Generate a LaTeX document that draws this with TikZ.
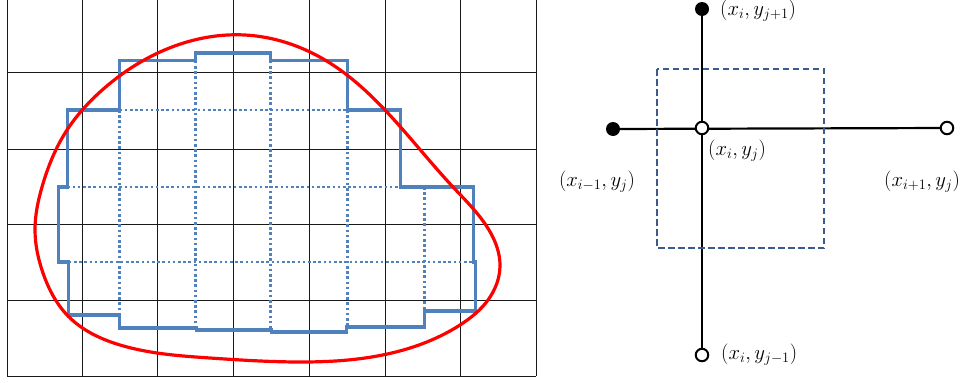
\documentclass[tikz,border=0pt]{standalone}
\usetikzlibrary{backgrounds,hobby}
\definecolor{outl}{HTML}{4F81BD}
\definecolor{boxc}{HTML}{3B5B8F}
\begin{document}
\begin{tikzpicture}[x=1pt,y=-1pt,
  gridline/.style={black!90, line width=0.9pt},
  outline/.style={outl, line width=3.3pt, line join=miter},
  dotline/.style={outl, line width=2.8pt, dash pattern=on 2.6pt off 2.6pt},
  curve/.style={red, line width=3.2pt},
  axis/.style={black, line width=2.2pt},
  fdot/.style={circle, fill=black, inner sep=0pt, minimum size=14pt},
  odot/.style={circle, draw=black, fill=white, line width=2pt, inner sep=0pt, minimum size=12.5pt},
  lab/.style={inner sep=0pt, font=\fontsize{22}{26}\selectfont, text=black},
  cellbox/.style={boxc, line width=2.4pt, dash pattern=on 6.5pt off 3.5pt}]
\useasboundingbox (0,0) rectangle (970,383);
\begin{scope}[on background layer]
  \fill[white] (0,0) rectangle (970,383);
\end{scope}

% grid
\foreach \x in {7,82,157,233,309,385,460,536}
  \draw[gridline] (\x,0) -- (\x,376);
\foreach \y in {72,149,224,300,376}
  \draw[gridline] (7,\y) -- (536,\y);

% dotted interior lines
\draw[dotline] (119.6,110) -- (119.6,315);
\draw[dotline] (195.7,60.7) -- (195.7,328);
\draw[dotline] (270.8,60.7) -- (270.8,330);
\draw[dotline] (347.3,110) -- (347.3,327);
\draw[dotline] (424.5,187) -- (424.5,311);
\draw[dotline] (119.6,110) -- (347.8,110);
\draw[dotline] (67.4,187) -- (400.8,187);
\draw[dotline] (68.8,262) -- (473.3,262);

% staircase outline
\draw[outline] (119.6,60.7) -- (195.7,60.7) -- (195.7,53) -- (270.8,53) -- (270.8,60.7)
  -- (347.8,60.7) -- (347.8,110) -- (400.8,110) -- (400.8,187) -- (473.3,187)
  -- (473.3,262) -- (475.5,262) -- (475.5,311) -- (424.5,311) -- (424.5,327)
  -- (346.7,327) -- (346.7,332) -- (271.2,332) -- (271.2,330) -- (196.5,330)
  -- (196.5,328) -- (119.6,328) -- (119.6,315) -- (68.8,315) -- (68.8,262)
  -- (58.2,262) -- (58.2,187) -- (67.4,187) -- (67.4,110) -- (119.6,110) -- cycle;

% red boundary
\draw[curve, use Hobby shortcut, closed=true]
  (245,35) .. (325,60) .. (385,110) .. (453,187) .. (489,230) .. (500,266)
  .. (488,300) .. (460,325) .. (410,348) .. (298,362) .. (210,358)
  .. (120,345) .. (68,316) .. (43,273) .. (35,230) .. (42,187) .. (67,130)
  .. (100,92) .. (160,52);

% right panel: stencil
\draw[cellbox] (657,69) rectangle (824,248);
\node[odot] (C) at (702,128) {};
\node[fdot] (T) at (702,9) {};
\node[odot] (B) at (702,355) {};
\node[fdot] (L) at (613,129) {};
\node[odot] (R) at (947,128) {};
\begin{scope}[on background layer]
  \draw[axis] (T.center) -- (B.center);
  \draw[axis] (L.center) -- (R.center);
\end{scope}

\node[lab, anchor=west] (lT) at (720,11) {$(x_i,y_{j+1})$};
\node[lab, anchor=west] (lC) at (708,151) {$(x_i,y_j)$};
\node[lab] (lL) at (597,182) {$(x_{i-1},y_j)$};
\node[lab] (lR) at (922,182) {$(x_{i+1},y_j)$};
\node[lab, anchor=west] (lB) at (721,355) {$(x_i,y_{j-1})$};
\end{tikzpicture}
\end{document}
